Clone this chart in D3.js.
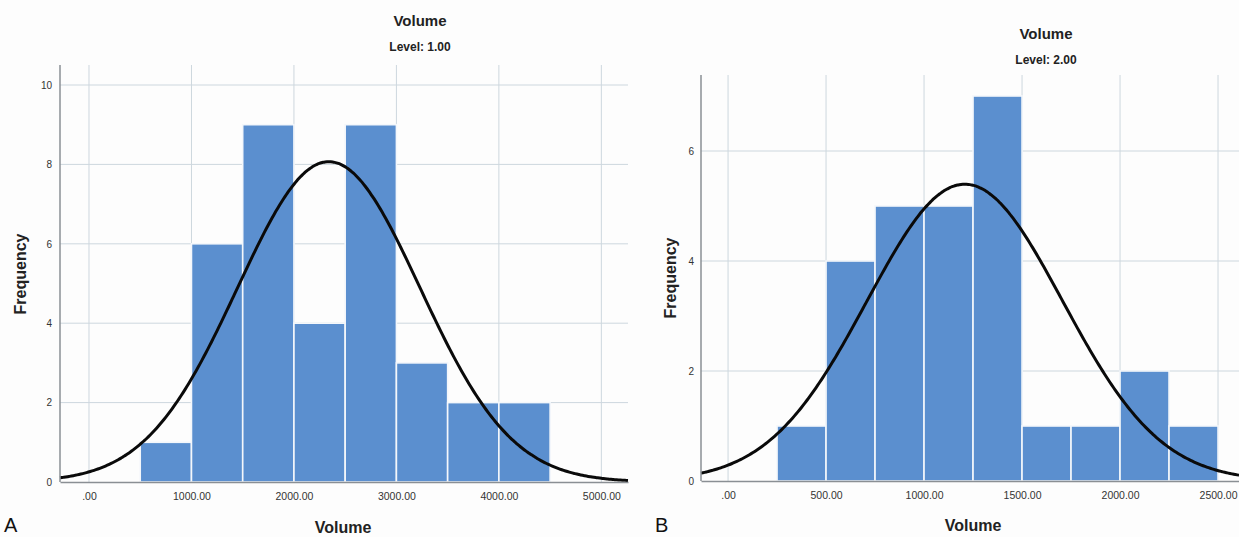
<!DOCTYPE html>
<html>
<head>
<meta charset="utf-8">
<script src="https://cdn.jsdelivr.net/npm/d3@7"></script>
<style>
  body { margin: 0; background: #fdfdfd; }
  svg { display: block; font-family: "Liberation Sans", Arial, sans-serif; }
  .tick text { fill: #333; }
</style>
</head>
<body>
<div id="chart-area"></div>
<script>
// Level 1.00 histogram (bin edges, counts) and fitted normal
const levelOneEdges = [500, 1000, 1500, 2000, 2500, 3000, 3500, 4000, 4500];
const levelOneCounts = [1, 6, 9, 4, 9, 3, 2, 2];
const levelOneXTicks = [0, 1000, 2000, 3000, 4000, 5000];
const levelOneYTicks = [0, 2, 4, 6, 8, 10];
const levelOneMean = 2340;
const levelOneSd = 890;

// Level 2.00 histogram
const levelTwoEdges = [250, 500, 750, 1000, 1250, 1500, 1750, 2000, 2250, 2500];
const levelTwoCounts = [1, 4, 5, 5, 7, 1, 1, 2, 1];
const levelTwoXTicks = [0, 500, 1000, 1500, 2000, 2500];
const levelTwoYTicks = [0, 2, 4, 6];
const levelTwoMean = 1208;
const levelTwoSd = 499;

const width = 1239;
const height = 537;

const svg = d3.select("#chart-area")
    .append("svg")
    .attr("width", width)
    .attr("height", height);

function fmtTick(d) {
    return d === 0 ? ".00" : d.toFixed(2);
}

function drawPanel(p) {
    const x = d3.scaleLinear().domain(p.xDomain).range([p.left, p.right]);
    const y = d3.scaleLinear().domain([0, 10]).range([p.zeroY, p.zeroY - 10 * p.unit]);

    const g = svg.append("g");

    // grid lines (behind the bars)
    g.selectAll("line.vgrid")
        .data(p.xTicks)
        .enter()
        .append("line")
        .attr("x1", d => x(d)).attr("x2", d => x(d))
        .attr("y1", p.top).attr("y2", p.zeroY)
        .attr("stroke", "#cdd7de")
        .attr("stroke-width", 1);

    g.selectAll("line.hgrid")
        .data(p.yTicks.filter(d => d > 0))
        .enter()
        .append("line")
        .attr("x1", p.left).attr("x2", p.right)
        .attr("y1", d => y(d)).attr("y2", d => y(d))
        .attr("stroke", "#cdd7de")
        .attr("stroke-width", 1);

    // bars
    const bins = p.counts.map((c, i) => ({ x0: p.edges[i], x1: p.edges[i + 1], n: c }));
    g.selectAll("rect")
        .data(bins)
        .enter()
        .append("rect")
        .attr("x", d => x(d.x0))
        .attr("y", d => y(d.n))
        .attr("width", d => x(d.x1) - x(d.x0))
        .attr("height", d => y(0) - y(d.n))
        .attr("fill", "#5b8fcf")
        .attr("stroke", "#f4f7fb")
        .attr("stroke-width", 1.6);

    // fitted normal curve
    const total = d3.sum(p.counts);
    const binWidth = p.edges[1] - p.edges[0];
    const xs = d3.range(p.xDomain[0], p.xDomain[1], (p.xDomain[1] - p.xDomain[0]) / 300).concat([p.xDomain[1]]);
    const normal = v => total * binWidth / (p.sd * Math.sqrt(2 * Math.PI)) *
        Math.exp(-0.5 * Math.pow((v - p.mean) / p.sd, 2));
    const line = d3.line().x(d => x(d)).y(d => y(normal(d))).curve(d3.curveBasis);
    g.append("path")
        .datum(xs)
        .attr("d", line)
        .attr("fill", "none")
        .attr("stroke", "#0a0a0a")
        .attr("stroke-width", 3);

    // axes
    const xAxis = g.append("g")
        .attr("transform", `translate(0,${p.zeroY})`)
        .call(d3.axisBottom(x).tickValues(p.xTicks).tickFormat(fmtTick).tickSize(0).tickPadding(11));
    xAxis.select(".domain").attr("stroke", "#8a8f94").attr("stroke-width", 1.5);
    xAxis.selectAll("text").attr("font-size", 10.5);

    const yAxis = g.append("g")
        .attr("transform", `translate(${p.left},0)`)
        .call(d3.axisLeft(y).tickValues(p.yTicks).tickFormat(d3.format("d")).tickSize(0).tickPadding(p.yPad));
    yAxis.select(".domain").remove();
    yAxis.selectAll("text").attr("font-size", 10);
    g.append("line")
        .attr("x1", p.left).attr("x2", p.left)
        .attr("y1", p.top).attr("y2", p.zeroY)
        .attr("stroke", "#8a8f94")
        .attr("stroke-width", 1.5);

    // titles
    g.append("text")
        .attr("x", p.titleX).attr("y", p.titleY)
        .attr("text-anchor", "middle")
        .attr("font-size", 15).attr("font-weight", "bold").attr("fill", "#222")
        .text("Volume");
    g.append("text")
        .attr("x", p.titleX).attr("y", p.titleY + 25)
        .attr("text-anchor", "middle")
        .attr("font-size", 12).attr("font-weight", "bold").attr("fill", "#222")
        .text(p.level);
    g.append("text")
        .attr("x", p.xTitleX).attr("y", p.xTitleY)
        .attr("text-anchor", "middle")
        .attr("font-size", 16).attr("font-weight", "bold").attr("fill", "#222")
        .text("Volume");
    g.append("text")
        .attr("transform", `translate(${p.yTitleX},${p.yTitleY}) rotate(-90)`)
        .attr("text-anchor", "middle")
        .attr("font-size", 16).attr("font-weight", "bold").attr("fill", "#222")
        .text("Frequency");
    g.append("text")
        .attr("x", p.letterX).attr("y", 532)
        .attr("font-size", 20).attr("fill", "#111")
        .text(p.letter);
}

drawPanel({
    edges: levelOneEdges, counts: levelOneCounts, xTicks: levelOneXTicks, yTicks: levelOneYTicks,
    mean: levelOneMean, sd: levelOneSd,
    xDomain: [-283, 5260], left: 60, right: 628, top: 65, zeroY: 482, unit: 39.7, yPad: 8,
    titleX: 420, titleY: 26, level: "Level: 1.00",
    xTitleX: 343, xTitleY: 533, yTitleX: 26, yTitleY: 274, letter: "A", letterX: 4
});

drawPanel({
    edges: levelTwoEdges, counts: levelTwoCounts, xTicks: levelTwoXTicks, yTicks: levelTwoYTicks,
    mean: levelTwoMean, sd: levelTwoSd,
    xDomain: [-138, 2607], left: 701, right: 1239, top: 75, zeroY: 481, unit: 55, yPad: 7,
    titleX: 1046, titleY: 39, level: "Level: 2.00",
    xTitleX: 973, xTitleY: 531, yTitleX: 676, yTitleY: 278, letter: "B", letterX: 655
});
</script>
</body>
</html>
